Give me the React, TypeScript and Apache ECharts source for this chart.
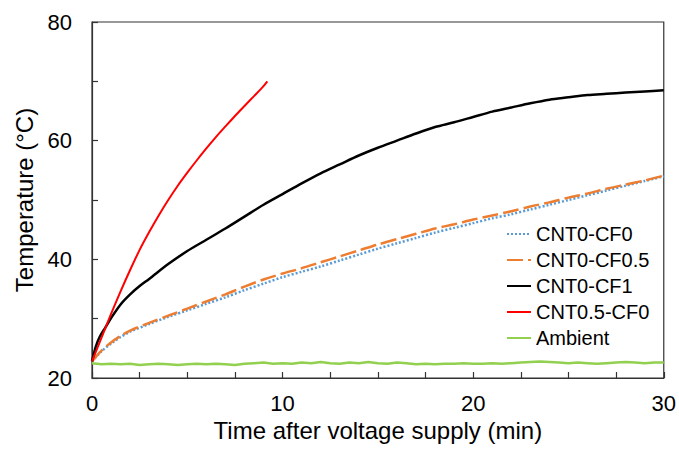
import React, { useEffect, useRef } from "react";
import * as echarts from "echarts";

const seriesNames = ["CNT0-CF0", "CNT0-CF0.5", "CNT0-CF1", "CNT0.5-CF0", "Ambient"];

const tCF0 = [0, 0.5, 1, 1.5, 2, 3, 4, 5, 6, 7, 8, 9, 10, 11, 12, 13, 14, 15, 16, 17, 18, 19, 20, 21, 22, 23, 24, 25, 26, 27, 28, 29, 30];
const vCF0 = [22.8, 24.5, 25.8, 26.9, 27.8, 29.1, 30.3, 31.4, 32.5, 33.6, 34.8, 35.9, 37.0, 37.9, 38.8, 39.8, 40.8, 41.8, 42.7, 43.6, 44.5, 45.3, 46.1, 46.9, 47.6, 48.4, 49.2, 50.0, 50.8, 51.6, 52.4, 53.2, 54.0];

const tCF05 = [0, 0.5, 1, 1.5, 2, 3, 4, 5, 6, 7, 8, 9, 10, 11, 12, 13, 14, 15, 16, 17, 18, 19, 20, 21, 22, 23, 24, 25, 26, 27, 28, 29, 30];
const vCF05 = [22.8, 24.6, 26.0, 27.1, 28.0, 29.3, 30.5, 31.7, 32.9, 34.1, 35.4, 36.6, 37.6, 38.5, 39.5, 40.5, 41.5, 42.5, 43.4, 44.3, 45.2, 45.9, 46.7, 47.4, 48.1, 48.9, 49.6, 50.4, 51.1, 51.9, 52.6, 53.3, 54.1];

const tCF1 = [0, 0.2, 0.4, 0.7, 1, 1.5, 2, 2.5, 3, 4, 5, 6, 7, 8, 9, 10, 11, 12, 13, 14, 15, 16, 17, 18, 19, 20, 21, 22, 23, 24, 25, 26, 27, 28, 29, 30];
const vCF1 = [22.8, 25.3, 26.9, 28.5, 30.1, 32.4, 34.1, 35.5, 36.7, 39.2, 41.4, 43.3, 45.2, 47.2, 49.2, 51.0, 52.8, 54.5, 56.0, 57.5, 58.8, 60.0, 61.2, 62.3, 63.1, 64.0, 64.9, 65.6, 66.3, 66.9, 67.3, 67.7, 67.9, 68.1, 68.3, 68.5];

const tCNT05 = [0, 0.5, 1, 1.5, 2, 2.5, 3, 3.5, 4, 4.5, 5, 5.5, 6, 6.5, 7, 7.5, 8, 8.5, 9, 9.2];
const vCNT05 = [22.8, 26.8, 30.8, 34.6, 38.2, 41.6, 44.6, 47.4, 50.0, 52.4, 54.6, 56.7, 58.7, 60.6, 62.4, 64.15, 65.85, 67.5, 69.2, 70.0];

const tAmb = [0, 0.5, 1, 1.5, 2, 2.5, 3, 3.5, 4, 4.5, 5, 5.5, 6, 6.5, 7, 7.5, 8, 8.5, 9, 9.5, 10, 10.5, 11, 11.5, 12, 12.5, 13, 13.5, 14, 14.5, 15, 15.5, 16, 16.5, 17, 17.5, 18, 18.5, 19, 19.5, 20, 20.5, 21, 21.5, 22, 22.5, 23, 23.5, 24, 24.5, 25, 25.5, 26, 26.5, 27, 27.5, 28, 28.5, 29, 29.5, 30];
const vAmb = [22.5, 22.3, 22.4, 22.3, 22.4, 22.2, 22.3, 22.4, 22.3, 22.2, 22.3, 22.4, 22.3, 22.4, 22.3, 22.2, 22.4, 22.5, 22.6, 22.4, 22.5, 22.4, 22.6, 22.5, 22.7, 22.5, 22.4, 22.6, 22.5, 22.7, 22.5, 22.4, 22.6, 22.5, 22.3, 22.4, 22.3, 22.4, 22.4, 22.5, 22.4, 22.4, 22.5, 22.4, 22.5, 22.6, 22.7, 22.8, 22.7, 22.6, 22.5, 22.6, 22.5, 22.4, 22.5, 22.6, 22.7, 22.6, 22.5, 22.6, 22.6];

const xTicks = [0, 10, 20, 30];
const yTicks = [20, 40, 60, 80];

const pairs = (t: number[], v: number[]) => t.map((x, i) => [x, v[i]]);

const FONT = "'Liberation Sans', Arial, sans-serif";

export default function App() {
  const ref = useRef<HTMLDivElement>(null);
  useEffect(() => {
    if (!ref.current) return;
    const chart = echarts.init(ref.current, undefined, { renderer: "svg" });
    const axisColor = "#333";
    chart.setOption({
      animation: false,
      textStyle: { fontFamily: FONT },
      grid: { left: 92, right: 15, top: 22, bottom: 72, show: true, borderColor: axisColor, borderWidth: 1.2 },
      legend: {
        orient: "vertical",
        left: 506,
        top: 224,
        padding: 0,
        itemWidth: 24,
        itemHeight: 14,
        itemGap: 6,
        itemStyle: { opacity: 0 },
        textStyle: { fontSize: 20, color: "#000", fontFamily: FONT, lineHeight: 20 },
        data: seriesNames,
      },
      xAxis: {
        type: "value",
        min: xTicks[0],
        max: xTicks[xTicks.length - 1],
        interval: 10,
        name: "Time after voltage supply (min)",
        nameLocation: "middle",
        nameGap: 40,
        nameTextStyle: { fontSize: 24, color: "#000", fontFamily: FONT },
        axisLine: { lineStyle: { color: axisColor, width: 1.2 } },
        axisTick: { inside: true, length: 6, lineStyle: { color: axisColor, width: 1.2 } },
        minorTick: { show: true, splitNumber: 4, length: 6, lineStyle: { color: axisColor, width: 1.2 } },
        axisLabel: { fontSize: 22, color: "#000", margin: 14, fontFamily: FONT },
        splitLine: { show: false },
      },
      yAxis: {
        type: "value",
        min: yTicks[0],
        max: yTicks[yTicks.length - 1],
        interval: 20,
        name: "Temperature (°C)",
        nameLocation: "middle",
        nameGap: 52,
        nameTextStyle: { fontSize: 24, color: "#000", fontFamily: FONT },
        axisLine: { show: true, lineStyle: { color: axisColor, width: 1.2 } },
        axisTick: { show: true, inside: true, length: 6, lineStyle: { color: axisColor, width: 1.2 } },
        minorTick: { show: true, splitNumber: 2, length: 6, lineStyle: { color: axisColor, width: 1.2 } },
        axisLabel: { fontSize: 22, color: "#000", margin: 20, fontFamily: FONT },
        splitLine: { show: false },
      },
      series: [
        {
          name: seriesNames[0],
          type: "line",
          data: pairs(tCF0, vCF0),
          symbol: "none",
          smooth: 0.3,
          itemStyle: { color: "#5B9BD5" },
          lineStyle: { color: "#5B9BD5", width: 2.5, type: [2, 2] },
        },
        {
          name: seriesNames[1],
          type: "line",
          data: pairs(tCF05, vCF05),
          symbol: "none",
          smooth: 0.3,
          itemStyle: { color: "#ED7D31" },
          lineStyle: { color: "#ED7D31", width: 2.5, type: [16, 5] },
        },
        {
          name: seriesNames[2],
          type: "line",
          data: pairs(tCF1, vCF1),
          symbol: "none",
          smooth: 0.3,
          itemStyle: { color: "#000000" },
          lineStyle: { color: "#000000", width: 2.5 },
        },
        {
          name: seriesNames[3],
          type: "line",
          data: pairs(tCNT05, vCNT05),
          symbol: "none",
          smooth: 0.3,
          itemStyle: { color: "#FF0000" },
          lineStyle: { color: "#FF0000", width: 2 },
        },
        {
          name: seriesNames[4],
          type: "line",
          data: pairs(tAmb, vAmb),
          symbol: "none",
          itemStyle: { color: "#92D050" },
          lineStyle: { color: "#92D050", width: 2.5 },
        },
      ],
    });
    return () => chart.dispose();
  }, []);
  return <div ref={ref} style={{ width: 679, height: 450, position: "absolute", left: 0, top: 0 }} />;
}
